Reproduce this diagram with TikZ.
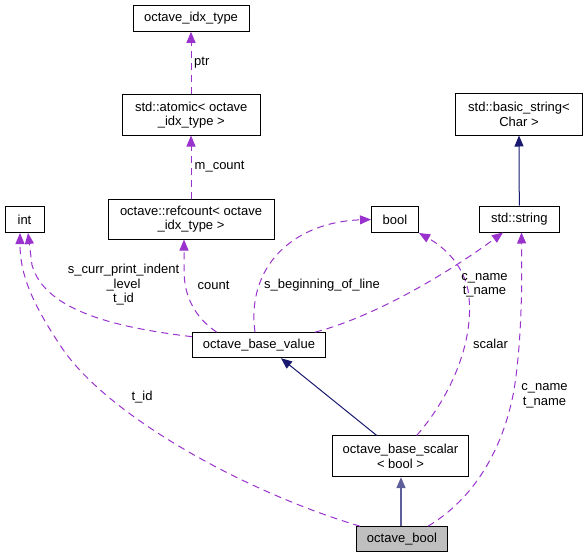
\documentclass[tikz,border=0pt]{standalone}
\usepackage{fontspec}
\setmainfont{Liberation Sans}
\usetikzlibrary{arrows.meta}
\definecolor{member}{HTML}{9A32CD}
\definecolor{inherit}{HTML}{191970}
\definecolor{current}{HTML}{BFBFBF}

\begin{document}
\begin{tikzpicture}[x=1pt, y=-1pt,
		font=\fontsize{13}{14.5}\selectfont,
		box/.style={draw, line width=1pt, inner sep=0pt, align=center},
		usage/.style={member, dashed, dash pattern=on 7pt off 5pt, line width=1pt,
			-{Triangle[width=9pt, length=11pt]}},
		base/.style={inherit, line width=1pt, -{Triangle[width=9pt, length=11pt]}},
		lbl/.style={inner sep=0pt, align=center}]
			\def\xMIN{0};
			\def\xMAX{588};
			\def\yMIN{0};
			\def\yMAX{559};
			\useasboundingbox (\xMIN,\yMIN) rectangle (\xMAX,\yMAX);

			\begin{scope}
				\node[box, minimum width=116pt, minimum height=26pt] (idx) at (191,18.3) {octave\_idx\_type};
				\node[box, minimum width=138pt, minimum height=40pt] (atomic) at (191.3,115) {std::atomic< octave\\\_idx\_type >};
				\node[box, minimum width=166pt, minimum height=40pt] (refcount) at (191,219) {octave::refcount< octave\\\_idx\_type >};
				\node[box, minimum width=39pt, minimum height=26pt] (int) at (24.5,219.5) {int};
				\node[box, minimum width=47pt, minimum height=26pt] (bool) at (395,219.5) {bool};
				\node[box, minimum width=80pt, minimum height=26pt] (string) at (519.3,219) {std::string};
				\node[box, minimum width=127pt, minimum height=41pt] (basicstring) at (519,114.5) {std::basic\_string<\\Char >};
				\node[box, minimum width=133pt, minimum height=25pt] (basevalue) at (259,345.2) {octave\_base\_value};
				\node[box, minimum width=135.6pt, minimum height=40.7pt] (basescalar) at (400.5,456.3) {octave\_base\_scalar\\< bool >};
				\node[box, fill=current, minimum width=90.6pt, minimum height=25pt] (octbool) at (402,539.2) {octave\_bool};
			\end{scope}

			\begin{scope}
				\draw[base] (string.north) -- (basicstring.south);
				\draw[base] (basescalar.north west -| 376.7,0) -- (basevalue.south -| 281,0);
				\draw[base, inherit!70, line width=1.6pt] (octbool.north -| 401,0) -- (basescalar.south -| 401,0);
			\end{scope}

			\begin{scope}
				\draw[usage] (atomic.north -| 191,0) -- (idx.south -| 191,0);
				\draw[usage] (refcount.north -| 191,0) -- (atomic.south -| 191,0);
				\draw[usage] (basevalue.north -| 216.7,0) .. controls (196,318) and (184,298) .. (184,270) -- (refcount.south -| 184,0);
				\draw[usage] (basevalue.west |- 0,336.7) .. controls (120,328) and (45,312) .. (32,265) -- (int.south -| 28,0);
				\draw[usage] (basevalue.north -| 255,0) .. controls (246,265) and (295,222) .. (bool.west);
				\draw[usage] (basevalue.north -| 315,0) .. controls (380,315) and (455,268) .. (string.south west -| 503,0);
				\draw[usage] (basescalar.north -| 416.7,0) .. controls (452,395) and (476,338) .. (468,290) .. controls (462,262) and (442,246) .. (bool.south east);
				\draw[usage] (octbool.north west -| 360,0) .. controls (245,492) and (105,415) .. (60,345) .. controls (30,300) and (20,272) .. (int.south -| 20,0);
				\draw[usage] (octbool.north -| 428,0) .. controls (480,495) and (505,440) .. (514,390) .. controls (522,340) and (522,280) .. (string.south -| 521.5,0);
			\end{scope}

			\begin{scope}
				\node[lbl, anchor=west] (ptrlbl) at (194,62.5) {ptr};
				\node[lbl, anchor=west] (mcountlbl) at (194.5,166.5) {m\_count};
				\node[lbl, anchor=west] (countlbl) at (197.5,285) {count};
				\node[lbl] (indentlbl) at (123.5,285) {s\_curr\_print\_indent\\\_level\\t\_id};
				\node[lbl] (beginlbl) at (322,285) {s\_beginning\_of\_line};
				\node[lbl] (namelbl) at (484.5,285.5) {c\_name\\t\_name};
				\node[lbl] (scalarlbl) at (490.5,344) {scalar};
				\node[lbl] (cnamelbl) at (544.5,396) {c\_name\\t\_name};
				\node[lbl] (tidlbl) at (142,397) {t\_id};
			\end{scope}
		\end{tikzpicture}
\end{document}
